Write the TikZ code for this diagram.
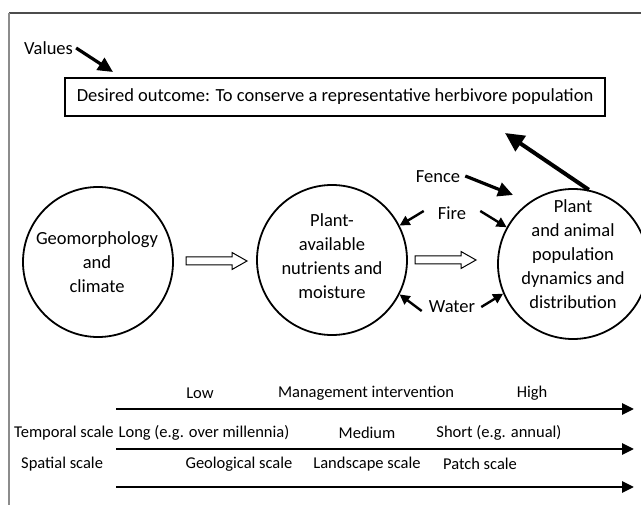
\documentclass[tikz,border=0pt]{standalone}
\usepackage{fontspec}
\setmainfont{Carlito}
\usetikzlibrary{arrows.meta,calc}
\begin{document}
\begin{tikzpicture}[x=1pt,y=-1pt,
  every node/.style={inner sep=0pt, font=\fontsize{18.5}{24}\selectfont},
  circ/.style={circle, draw, line width=1.8pt, minimum size=150pt},
  ctext/.style={align=center},
  small/.style={font=\fontsize{16.5}{20}\selectfont},
  thinarr/.style={line width=2.4pt, -{Triangle[length=10pt,width=10pt]}},
  medarr/.style={line width=3.2pt, -{Triangle[length=15pt,width=14pt]}},
  bigarr/.style={line width=4pt, -{Triangle[length=19pt,width=18pt]}},
  axisarr/.style={line width=2.8pt, -{Triangle[length=12pt,width=11pt]}},
  hollow/.pic={\draw[line width=1pt] (0,-4) -- (46,-4) -- (46,-8.5) -- (61,0) -- (46,8.5) -- (46,4) -- (0,4) -- cycle;}
]
\useasboundingbox (0,0) rectangle (641,505);
% frame
\draw[line width=2pt, black!70] (9,13) -- (641,13);
\draw[line width=2pt, black!45] (9,13) -- (9,505);

% top
\node[anchor=west] (val) at (24,48) {Values};
\coordinate (valtip) at (113,72);
\node[draw, line width=1.2pt, minimum width=540pt, minimum height=38pt] (goal) at (335,97) {Desired outcome: To conserve a representative herbivore population};

% circles
\node[circ] (geo) at (98,262) {};
\node[ctext] (geot) at (97,262) {Geomorphology\\and\\climate};
\node[circ] (nut) at (332,260) {};
\node[ctext] (nutt) at (332,256) {Plant-\\available\\nutrients and\\moisture};
\node[circ] (pop) at (573,264) {};
\node[ctext] (popt) at (573,254) {Plant\\and animal\\population\\dynamics and\\distribution};

% hollow arrows
\pic at (186,261) {hollow};
\pic at (415,260) {hollow};

% labels
\node (fence) at (438,177) {Fence};
\coordinate (fencetip) at (513,195);
\node (fire) at (452,213) {Fire};
\node (water) at (452,307) {Water};
\coordinate (goaltip) at (505,133);

\draw[medarr] ([xshift=3pt]val.east) -- (valtip);
\draw[bigarr] (pop.78) -- (goaltip);
\draw[medarr] ([xshift=5pt,yshift=1pt]fence.east) -- (fencetip);
\draw[thinarr] ([xshift=-14pt,yshift=2pt]fire.west) -- (nut.27);
\draw[thinarr] ([xshift=14pt,yshift=2pt]fire.east) -- (pop.151);
\draw[thinarr] ([xshift=-7pt,yshift=-4pt]water.west) -- (nut.-27);
\draw[thinarr] ([xshift=6pt,yshift=0pt]water.east) -- (pop.203);

% bottom scales
\node[small] (low) at (200,393) {Low};
\node[small] (mgmt) at (366,393) {Management intervention};
\node[small] (high) at (532,393) {High};
\coordinate (a1s) at (116,409);
\coordinate (a1e) at (634,409);
\draw[axisarr] (a1s) -- (a1e);

\node[small, anchor=west] (temp) at (14,433) {Temporal scale};
\node[small] (long) at (204,433) {Long (e.g. over millennia)};
\node[small] (med) at (367,433) {Medium};
\node[small] (short) at (499,433) {Short (e.g. annual)};
\coordinate (a2s) at (116,449);
\coordinate (a2e) at (634,449);
\draw[axisarr] (a2s) -- (a2e);

\node[small, anchor=west] (spat) at (21,464) {Spatial scale};
\node[small] (geol) at (239,464) {Geological scale};
\node[small] (land) at (367,464) {Landscape scale};
\node[small] (patch) at (480,464) {Patch scale};
\coordinate (a3s) at (116,487);
\coordinate (a3e) at (634,487);
\draw[axisarr] (a3s) -- (a3e);
\end{tikzpicture}
\end{document}
